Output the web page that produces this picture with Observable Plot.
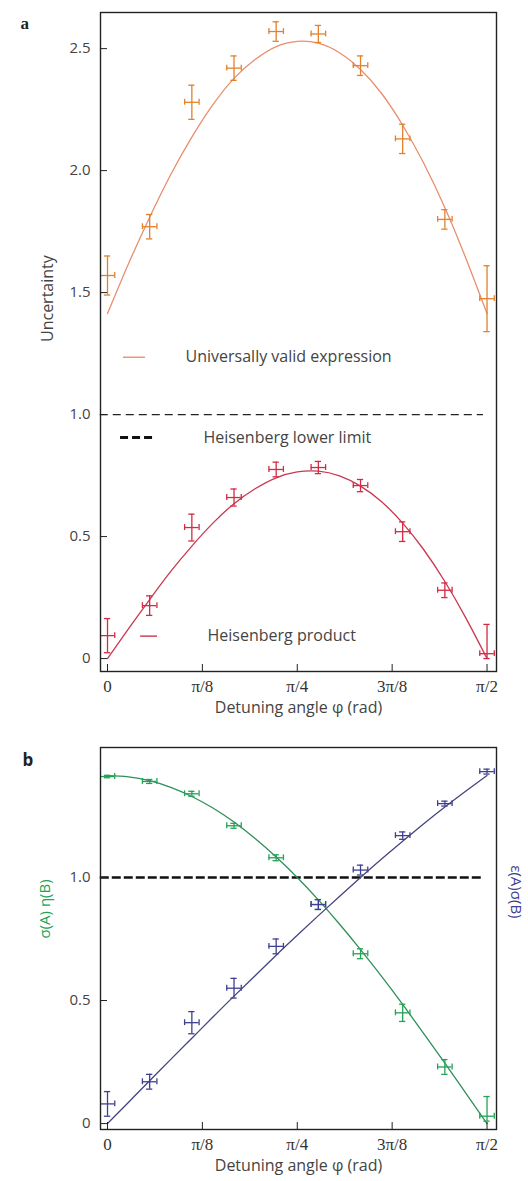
<!DOCTYPE html>
<html><head><meta charset="utf-8">
<script src="https://cdn.jsdelivr.net/npm/d3@7"></script>
<script src="https://cdn.jsdelivr.net/npm/@observablehq/plot@0.6"></script>
<style>
body{margin:0;background:#fff;width:528px;height:1181px;overflow:hidden}
#a,#b{display:block;line-height:0}
</style>
</head><body><div id="a"></div><div id="b"></div>
<script>
// detuning angles of measurements (rad), 0..π/2 in 10° steps
const phiPts = [0, 0.1745, 0.3491, 0.5236, 0.6981, 0.8727, 1.0472, 1.2217, 1.3963, 1.5708];
const phiErr = [0.03,0.03,0.03,0.03,0.03,0.03,0.03,0.03,0.03,0.03];

// panel a: universally valid expression (orange)
const uvVal   = [1.57, 1.77, 2.28, 2.42, 2.57, 2.56, 2.43, 2.13, 1.80, 1.475];
const uvErrLo = [0.08, 0.05, 0.07, 0.05, 0.04, 0.035, 0.04, 0.06, 0.04, 0.135];
const uvErrHi = [0.08, 0.05, 0.07, 0.05, 0.04, 0.035, 0.04, 0.06, 0.04, 0.135];
// panel a: Heisenberg product (red)
const hpVal   = [0.094, 0.217, 0.537, 0.66, 0.775, 0.783, 0.709, 0.52, 0.28, 0.02];
const hpErrLo = [0.07, 0.04, 0.055, 0.035, 0.03, 0.025, 0.025, 0.04, 0.03, 0.02];
const hpErrHi = [0.07, 0.04, 0.055, 0.035, 0.03, 0.025, 0.025, 0.04, 0.03, 0.12];

// theory curves sampled every 5°
const phiCurve = [0, 0.0873, 0.1745, 0.2618, 0.3491, 0.4363, 0.5236, 0.6109, 0.6981, 0.7854, 0.8727, 0.9599, 1.0472, 1.1345, 1.2217, 1.3090, 1.3963, 1.4835, 1.5708];
const uvCurve = [1.414, 1.619, 1.809, 1.984, 2.137, 2.270, 2.378, 2.455, 2.508, 2.530, 2.522, 2.483, 2.414, 2.316, 2.186, 2.030, 1.848, 1.640, 1.414];
const hpCurve = [0, 0.123, 0.242, 0.357, 0.461, 0.555, 0.635, 0.696, 0.741, 0.765, 0.768, 0.749, 0.707, 0.643, 0.555, 0.446, 0.316, 0.166, 0];

// panel b: σ(A)η(B) (green) and ε(A)σ(B) (purple)
const saVal   = [1.41, 1.39, 1.34, 1.21, 1.08, 0.89, 0.69, 0.45, 0.23, 0.03];
const saErrLo = [0.005, 0.008, 0.01, 0.01, 0.012, 0.02, 0.02, 0.035, 0.03, 0.02];
const saErrHi = [0.005, 0.008, 0.01, 0.01, 0.012, 0.02, 0.02, 0.035, 0.03, 0.08];
const esVal   = [0.08, 0.17, 0.41, 0.55, 0.72, 0.89, 1.03, 1.17, 1.30, 1.43];
const esErrLo = [0.05, 0.03, 0.045, 0.04, 0.03, 0.02, 0.02, 0.015, 0.01, 0.01];
const esErrHi = [0.05, 0.03, 0.045, 0.04, 0.03, 0.02, 0.02, 0.015, 0.01, 0.01];
const saCurve = [1.414, 1.409, 1.393, 1.366, 1.329, 1.282, 1.225, 1.158, 1.083, 1.000, 0.909, 0.811, 0.707, 0.598, 0.484, 0.366, 0.246, 0.123, 0];
const esCurve = [0, 0.087, 0.174, 0.261, 0.347, 0.433, 0.518, 0.601, 0.684, 0.765, 0.845, 0.923, 1.000, 1.075, 1.147, 1.218, 1.286, 1.351, 1.414];

// ticks
const xTicks = [0, 0.3927, 0.7854, 1.1781, 1.5708];
const xTickLabels = ["0", "π/8", "π/4", "3π/8", "π/2"];
const yTicksA = [0, 0.5, 1, 1.5, 2, 2.5];
const yTickLabelsA = ["0", "0.5", "1.0", "1.5", "2.0", "2.5"];
const yTicksB = [0, 0.5, 1];
const yTickLabelsB = ["0", "0.5", "1.0"];

// limit line
const limitValue = [1];
const limitFrom = -0.03, limitTo = 1.556;

// legend (panel a)
const legendLabels = ["Universally valid expression", "Heisenberg lower limit", "Heisenberg product"];
const legendTextX = [0.323, 0.397, 0.414];
const legendY = [1.235, 0.906, 0.092];
const legendLineX1 = [0.066, 0.054, 0.137];
const legendLineX2 = [0.157, 0.203, 0.207];

const xDomain = [-0.029, 1.610];
const capX = 0.013;
const ORANGE = "#e2812c", ORANGE_LINE = "#e88f6e";
const RED = "#d42a44", RED_LINE = "#c9384e";
const GREEN = "#22a356", GREEN_LINE = "#2f8f5a";
const PURPLE = "#3f3f92", PURPLE_LINE = "#454580";
const SANS = "Open Sans";
const SERIF = "Liberation Serif";

function errorMarks(vals, lo, hi, color, capY) {
  const idx = d3.range(vals.length);
  const o = {stroke: color, strokeWidth: 1.3, clip: true};
  return [
    Plot.ruleX(idx, {...o, x: i => phiPts[i], y1: i => vals[i] - lo[i], y2: i => vals[i] + hi[i]}),
    Plot.ruleY(idx, {...o, y: i => vals[i], x1: i => phiPts[i] - phiErr[i], x2: i => phiPts[i] + phiErr[i]}),
    Plot.ruleY(idx, {...o, y: i => vals[i] - lo[i], x1: i => phiPts[i] - capX, x2: i => phiPts[i] + capX}),
    Plot.ruleY(idx, {...o, y: i => vals[i] + hi[i], x1: i => phiPts[i] - capX, x2: i => phiPts[i] + capX}),
    Plot.ruleX(idx, {...o, x: i => phiPts[i] - phiErr[i], y1: i => vals[i] - capY, y2: i => vals[i] + capY}),
    Plot.ruleX(idx, {...o, x: i => phiPts[i] + phiErr[i], y1: i => vals[i] - capY, y2: i => vals[i] + capY})
  ];
}
function curve(ys, color) {
  const idx = d3.range(phiCurve.length);
  return Plot.line(idx, {x: i => phiCurve[i], y: i => ys[i], stroke: color, strokeWidth: 1.3, curve: "natural", clip: true});
}
function axes(yTicks, yLabels) {
  const xi = d3.range(xTicks.length);
  return [
    Plot.axisX(xTicks, {tickSize: -7, tickFormat: () => "", stroke: "#222", label: null}),
    Plot.text(xi, {x: i => xTicks[i], text: i => xTickLabels[i], frameAnchor: "bottom", lineAnchor: "top", dy: 8, fontFamily: SERIF, fontSize: 17, fill: "#333"}),
    Plot.axisY(yTicks, {tickSize: -7, tickPadding: 17, tickFormat: d => yLabels[yTicks.indexOf(d)], fontSize: 15, fill: "#444", stroke: "#222", label: null}),
    Plot.text(["Detuning angle φ (rad)"], {frameAnchor: "bottom", dy: 41, fontSize: 16, fill: "#444"}),
    Plot.frame({stroke: "#222", strokeWidth: 1.4})
  ];
}

const li = d3.range(legendLabels.length);
const plotA = Plot.plot({
  width: 528, height: 730,
  marginLeft: 100, marginRight: 32, marginTop: 12, marginBottom: 59,
  x: {domain: xDomain},
  y: {domain: [-0.053, 2.648]},
  style: {fontFamily: SANS, fontSize: "14px", color: "#444", background: "white", overflow: "visible"},
  marks: [
    Plot.ruleY(limitValue, {x1: limitFrom, x2: limitTo, stroke: "#222", strokeWidth: 1.2, strokeDasharray: "8,5"}),
    curve(uvCurve, ORANGE_LINE),
    curve(hpCurve, RED_LINE),
    ...errorMarks(uvVal, uvErrLo, uvErrHi, ORANGE, 0.012),
    ...errorMarks(hpVal, hpErrLo, hpErrHi, RED, 0.012),
    Plot.ruleY([0], {y: legendY[0], x1: legendLineX1[0], x2: legendLineX2[0], stroke: ORANGE_LINE, strokeWidth: 1.4}),
    Plot.ruleY([1], {y: legendY[1], x1: legendLineX1[1], x2: legendLineX2[1], stroke: "#111", strokeWidth: 3, strokeDasharray: "8,4"}),
    Plot.ruleY([2], {y: legendY[2], x1: legendLineX1[2], x2: legendLineX2[2], stroke: RED_LINE, strokeWidth: 1.4}),
    Plot.text(li, {x: i => legendTextX[i], y: i => legendY[i], text: i => legendLabels[i], textAnchor: "start", fontSize: 16, fill: "#444"}),
    ...axes(yTicksA, yTickLabelsA),
    Plot.text(["Uncertainty"], {frameAnchor: "left", dx: -53, rotate: -90, fontSize: 16, fill: "#444"}),
    Plot.text(["a"], {frameAnchor: "top-left", dx: -80, dy: 4, fontSize: 17, fontWeight: "bold", fontFamily: SERIF, fill: "#222"})
  ]
});
document.getElementById("a").append(plotA);

const plotB = Plot.plot({
  width: 528, height: 451,
  marginLeft: 100, marginRight: 32, marginTop: 17, marginBottom: 52,
  x: {domain: xDomain},
  y: {domain: [-0.024, 1.528]},
  style: {fontFamily: SANS, fontSize: "14px", color: "#444", background: "white", overflow: "visible"},
  marks: [
    Plot.ruleY(limitValue, {x1: limitFrom, x2: limitTo, stroke: "#111", strokeWidth: 2.6, strokeDasharray: "9,3"}),
    curve(saCurve, GREEN_LINE),
    curve(esCurve, PURPLE_LINE),
    ...errorMarks(saVal, saErrLo, saErrHi, GREEN, 0.012),
    ...errorMarks(esVal, esErrLo, esErrHi, PURPLE, 0.012),
    ...axes(yTicksB, yTickLabelsB),
    Plot.text(["σ(A) η(B)"], {frameAnchor: "left", dx: -55, rotate: -90, fontSize: 15, fill: GREEN}),
    Plot.text(["ε(A)σ(B)"], {frameAnchor: "right", dx: 19, dy: -20, rotate: 90, fontSize: 15, fill: PURPLE}),
    Plot.text(["b"], {frameAnchor: "top-left", dx: -78, dy: 6, fontSize: 17, fontWeight: "bold", fontFamily: SANS, fill: "#222"})
  ]
});
document.getElementById("b").append(plotB);
</script>
</body></html>
